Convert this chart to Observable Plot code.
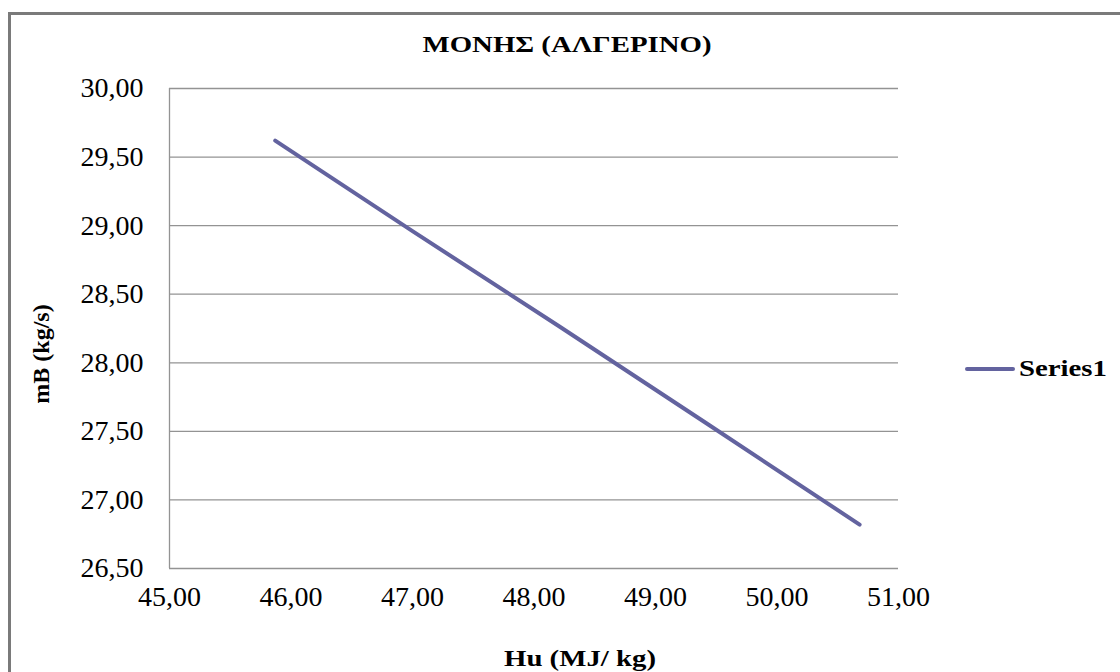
<!DOCTYPE html>
<html>
<head>
<meta charset="utf-8">
<script src="https://cdn.jsdelivr.net/npm/d3@7"></script>
<script src="https://cdn.jsdelivr.net/npm/@observablehq/plot@0.6"></script>
<style>
  html, body { margin: 0; padding: 0; background: #fff; }
  #wrap { position: relative; width: 1120px; height: 672px; overflow: hidden; }
  #frame { position: absolute; left: 8px; top: 12px; width: 1200px; height: 800px; border-left: 3px solid #7a7a7a; border-top: 3px solid #7a7a7a; box-sizing: border-box; }
  .lbl { position: absolute; font-weight: bold; color: #000; white-space: nowrap; font-family: 'Times New Roman', 'Liberation Serif', serif; }
  #title { left: 567px; top: 31px; transform: translateX(-50%) scaleX(1.2); font-size: 24px; }
  #xlabel { left: 580px; top: 645px; transform: translateX(-50%) scaleX(1.2); font-size: 24px; }
  #ylabel { left: 41px; top: 354px; transform: translate(-50%, -50%) rotate(-90deg); font-size: 24px; }
  #legend { left: 965px; top: 355px; font-size: 24px; display: flex; align-items: center; }
  #legend .sw { width: 50px; height: 4px; background: #63639f; margin-right: 4px; border-radius: 2px; }
  #legend .tx { display: inline-block; transform: scaleX(1.2); transform-origin: left center; }
  #wrap > svg { position: absolute; left: 0; top: 0; }
</style>
</head>
<body>
<div id="wrap">
  <div id="frame"></div>
</div>
<script>
const titleText = "ΜΟΝΗΣ (ΑΛΓΕΡΙΝΟ)";
const xLabel = "Hu (MJ/ kg)";
const yLabel = "mB (kg/s)";
const seriesName = "Series1";
const hu = [45.87, 47.00, 48.20, 49.40, 50.68];
const mB = [29.62, 28.96, 28.27, 27.57, 26.82];
const xTicks = [45, 46, 47, 48, 49, 50, 51];
const yTicks = [26.5, 27.0, 27.5, 28.0, 28.5, 29.0, 29.5, 30.0];

const data = hu.map((h, i) => ({hu: h, mB: mB[i]}));
const fmt = d => d.toFixed(2).replace(".", ",");

const chart = Plot.plot({
  width: 1120,
  height: 672,
  marginLeft: 169,
  marginRight: 222,
  marginTop: 88,
  marginBottom: 104,
  style: { background: "transparent", color: "#000", fontFamily: "'Times New Roman', 'Liberation Serif', serif", fontSize: "28px" },
  x: { domain: [45, 51], ticks: xTicks, tickFormat: fmt, label: null, tickSize: 0, tickPadding: 19 },
  y: { domain: [26.5, 30], ticks: yTicks, tickFormat: fmt, label: null, tickSize: 0, tickPadding: 26 },
  marks: [
    Plot.gridY(yTicks, { stroke: "#939393", strokeOpacity: 1, strokeWidth: 1.3 }),
    Plot.ruleX([45], { stroke: "#939393", strokeWidth: 1.3 }),
    Plot.axisX({ ticks: xTicks, tickFormat: fmt, tickSize: 0, tickPadding: 18, label: null, fill: "#000", fontSize: 28 }),
    Plot.axisY({ ticks: yTicks, tickFormat: fmt, tickSize: 0, tickPadding: 26, label: null, fill: "#000", fontSize: 28 }),
    Plot.line(data, { x: "hu", y: "mB", stroke: "#63639f", strokeWidth: 4, strokeLinecap: "round" })
  ]
});

const wrap = document.getElementById("wrap");
wrap.appendChild(chart);

function addLabel(id, text) {
  const d = document.createElement("div");
  d.className = "lbl";
  d.id = id;
  d.textContent = text;
  wrap.appendChild(d);
  return d;
}
addLabel("title", titleText);
addLabel("xlabel", xLabel);
addLabel("ylabel", yLabel);
const leg = document.createElement("div");
leg.className = "lbl";
leg.id = "legend";
const sw = document.createElement("span");
sw.className = "sw";
const lt = document.createElement("span");
lt.className = "tx";
lt.textContent = seriesName;
leg.appendChild(sw);
leg.appendChild(lt);
wrap.appendChild(leg);
</script>
</body>
</html>
